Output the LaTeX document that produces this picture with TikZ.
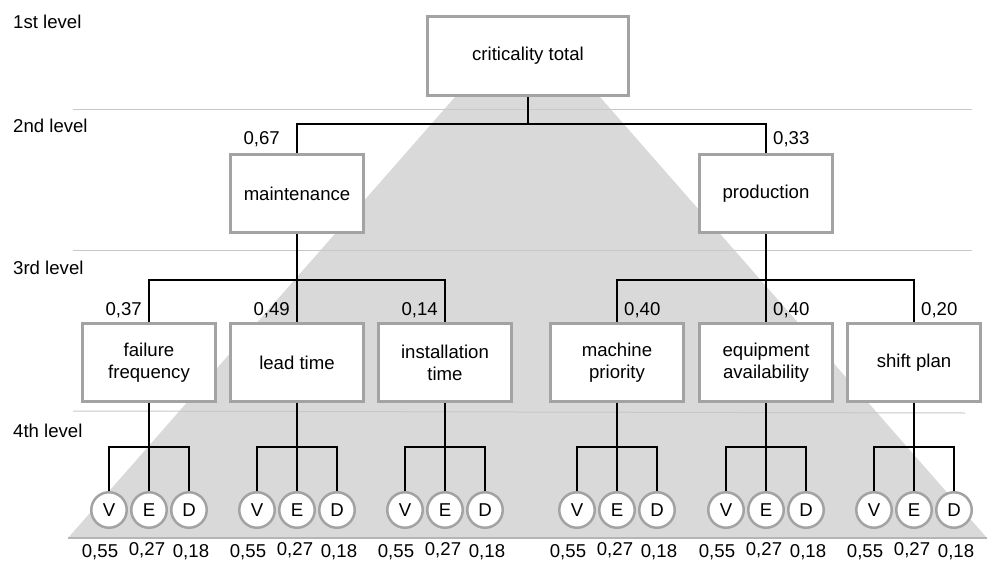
\documentclass[tikz,border=0pt]{standalone}
\usepackage{fontspec}
\setmainfont{Liberation Sans}
\usetikzlibrary{calc}
\definecolor{boxgray}{HTML}{A3A3A3}
\definecolor{trifill}{HTML}{D9D9D9}
\definecolor{rulegray}{HTML}{C8C8C8}
\begin{document}
\begin{tikzpicture}[x=1pt,y=-1pt,
  font=\fontsize{18.6}{22}\selectfont,
  box/.style={draw=boxgray,line width=3pt,fill=white,minimum width=133pt,minimum height=78pt,align=center,inner sep=2pt},
  topbox/.style={box,minimum width=201pt,minimum height=79pt},
  circ/.style={circle,draw=boxgray,line width=2.5pt,fill=white,minimum size=35.5pt,inner sep=0pt},
  conn/.style={draw=black,line width=1.1pt},
  wt/.style={inner sep=0pt},
  lvl/.style={inner sep=0pt,anchor=west},
  rule/.style={draw=rulegray,line width=1pt}]
\useasboundingbox (0,0) rectangle (988,562);
% background trapezoid
\fill[trifill] (455,97) -- (600,97) -- (987,538) -- (68,538) -- cycle;
\draw[draw=boxgray!80,line width=1.5pt] (68,538) -- (987,538);
% level rules
\draw[rule] (73,109) -- (972,109);
\draw[rule] (73,250) -- (972,250);
\draw[rule] (73,411) -- (965,413);
% level labels
\node[lvl] (l1) at (13,22) {1st level};
\node[lvl] (l2) at (13,126) {2nd level};
\node[lvl] (l3) at (13,268) {3rd level};
\node[lvl] (l4) at (13,431) {4th level};
% nodes
\node[topbox] (top) at (528,56) {criticality total};
\node[box] (main) at (297,193.5) {maintenance};
\node[box] (prod) at (766,193.5) {production};
\node[box] (ff) at (149,362.5) {failure\\frequency};
\node[box] (lt) at (297,362.5) {lead time};
\node[box] (it) at (445,362.5) {installation\\time};
\node[box] (mp) at (617,362.5) {machine\\priority};
\node[box] (ea) at (766,362.5) {equipment\\availability};
\node[box] (sp) at (914,362.5) {shift plan};
% level 2 connectors
\path (top.south) ++(0,27) coordinate (b1);
\draw[conn] (top.south) -- (b1);
\draw[conn] (main.north) |- (b1) -| (prod.north);
% level 3 connectors
\path (main.south) ++(0,46) coordinate (b2);
\path (prod.south) ++(0,46) coordinate (b3);
\draw[conn] (main.south) -- (lt.north);
\draw[conn] (ff.north) |- (b2) -| (it.north);
\draw[conn] (prod.south) -- (ea.north);
\draw[conn] (mp.north) |- (b3) -| (sp.north);
% weights
\node[wt,anchor=east] (w1) at ($(main.north)+(-17,-14)$) {0,67};
\node[wt,anchor=west] (w2) at ($(prod.north)+(7,-14)$) {0,33};
\node[wt,anchor=east] (w3) at ($(ff.north)+(-7,-12)$) {0,37};
\node[wt,anchor=east] (w4) at ($(lt.north)+(-7,-12)$) {0,49};
\node[wt,anchor=east] (w5) at ($(it.north)+(-7,-12)$) {0,14};
\node[wt,anchor=west] (w6) at ($(mp.north)+(7,-12)$) {0,40};
\node[wt,anchor=west] (w7) at ($(ea.north)+(7,-12)$) {0,40};
\node[wt,anchor=west] (w8) at ($(sp.north)+(7,-12)$) {0,20};
% level 4
\foreach \n in {ff,lt,it,mp,ea,sp} {
  \node[circ] (\n V) at ($(\n.south)+(-40,107)$) {V};
  \node[circ] (\n E) at ($(\n.south)+(0,107)$) {E};
  \node[circ] (\n D) at ($(\n.south)+(40,107)$) {D};
  \path (\n.south) ++(0,44) coordinate (\n b);
  \draw[conn] (\n.south) -- (\n E.north);
  \draw[conn] (\n V.north) |- (\n b) -| (\n D.north);
  \node[wt] (\n v) at ($(\n V.south)+(-9,23)$) {0,55};
  \node[wt] (\n e) at ($(\n E.south)+(-2,21)$) {0,27};
  \node[wt] (\n d) at ($(\n D.south)+(2,23)$) {0,18};
}
\end{tikzpicture}
\end{document}
